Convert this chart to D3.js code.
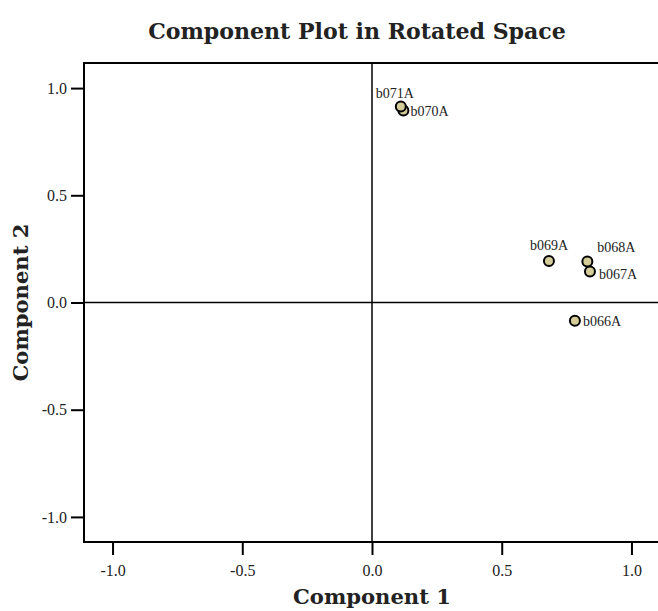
<!DOCTYPE html>
<html>
<head>
<meta charset="utf-8">
<script src="https://cdn.jsdelivr.net/npm/d3@7"></script>
<style>
  html, body { margin: 0; padding: 0; background: #fff; }
  svg { display: block; }
  text { font-family: "Liberation Serif", "DejaVu Serif", serif; fill: #222; }
</style>
</head>
<body>
<svg id="chart" width="658" height="611"></svg>
<script>
// ---- data ----
const labels = ["b071A", "b070A", "b069A", "b068A", "b067A", "b066A"];
const comp1 = [0.111, 0.121, 0.682, 0.830, 0.840, 0.782];
const comp2 = [0.914, 0.895, 0.194, 0.191, 0.145, -0.085];
// label placement relative to point: [dx, dy, anchor]
const labelPos = [
  [-25, -9, "start"],
  [7, 5, "start"],
  [0, -11, "middle"],
  [10, -10, "start"],
  [9, 8, "start"],
  [8, 5, "start"]
];
const xTicks = [-1.0, -0.5, 0.0, 0.5, 1.0];
const yTicks = [-1.0, -0.5, 0.0, 0.5, 1.0];
const xDomain = [-1.11, 1.11];
const yDomain = [-1.117, 1.117];

// ---- layout ----
const svg = d3.select("#chart");
const mLeft = 84, mTop = 63, mRight = 660, mBottom = 542;

const x = d3.scaleLinear().domain(xDomain).range([mLeft, mRight]);
const y = d3.scaleLinear().domain(yDomain).range([mBottom, mTop]);

// frame
svg.append("rect")
  .attr("x", mLeft).attr("y", mTop)
  .attr("width", mRight - mLeft).attr("height", mBottom - mTop)
  .attr("fill", "none").attr("stroke", "#000").attr("stroke-width", 2);

// reference lines at 0
svg.append("line")
  .attr("x1", mLeft).attr("x2", mRight)
  .attr("y1", y(0)).attr("y2", y(0))
  .attr("stroke", "#000").attr("stroke-width", 1.5);
svg.append("line")
  .attr("x1", x(0)).attr("x2", x(0))
  .attr("y1", mTop).attr("y2", mBottom)
  .attr("stroke", "#000").attr("stroke-width", 1.5);

// axes
const fmt = v => d3.format(".1f")(v).replace("\u2212", "-");
const xAxis = d3.axisBottom(x).tickValues(xTicks).tickFormat(fmt).tickSize(13).tickPadding(5);
const yAxis = d3.axisLeft(y).tickValues(yTicks).tickFormat(fmt).tickSize(13).tickPadding(4);

const gx = svg.append("g").attr("transform", `translate(0,${mBottom})`).call(xAxis);
const gy = svg.append("g").attr("transform", `translate(${mLeft},0)`).call(yAxis);
[gx, gy].forEach(g => {
  g.select(".domain").remove();
  g.selectAll(".tick line").attr("stroke", "#000").attr("stroke-width", 2);
  g.selectAll(".tick text")
    .style("font-family", '"Liberation Serif", "DejaVu Serif", serif')
    .style("font-size", "16px").attr("fill", "#222");
});
gx.selectAll(".tick text").attr("dy", "1.0em");

// points
const pts = labels.map((l, i) => ({ label: l, c1: comp1[i], c2: comp2[i], pos: labelPos[i] }));
const g = svg.append("g");
g.selectAll("circle").data(pts.slice().reverse()).enter().append("circle")
  .attr("cx", d => x(d.c1)).attr("cy", d => y(d.c2))
  .attr("r", 5)
  .attr("fill", "#d4cd97").attr("stroke", "#000").attr("stroke-width", 2);

g.selectAll("text.lbl").data(pts).enter().append("text")
  .attr("class", "lbl")
  .attr("x", d => x(d.c1) + d.pos[0])
  .attr("y", d => y(d.c2) + d.pos[1])
  .attr("text-anchor", d => d.pos[2])
  .attr("font-size", "14px")
  .text(d => d.label);

// titles
function fitText(sel, target) {
  const w = sel.node().getComputedTextLength();
  const fs = parseFloat(sel.attr("font-size"));
  sel.attr("font-size", (fs * target / w).toFixed(2) + "px");
}
const titleFont = '"DejaVu Serif", "Liberation Serif", serif';
const title = svg.append("text")
  .attr("x", 357).attr("y", 39)
  .attr("text-anchor", "middle")
  .style("font-family", titleFont)
  .attr("font-weight", "bold").attr("font-size", "18px")
  .attr("fill", "#111")
  .text("Component Plot in Rotated Space");
fitText(title, 418);

const xt = svg.append("text")
  .attr("x", 372).attr("y", 604)
  .attr("text-anchor", "middle")
  .style("font-family", titleFont)
  .attr("font-weight", "bold").attr("font-size", "18px")
  .attr("fill", "#111")
  .text("Component 1");
fitText(xt, 158);

const yt = svg.append("text")
  .attr("transform", `translate(28,${y(0)}) rotate(-90)`)
  .attr("text-anchor", "middle")
  .style("font-family", titleFont)
  .attr("font-weight", "bold").attr("font-size", "18px")
  .attr("fill", "#111")
  .text("Component 2");
fitText(yt, 158);
</script>
</body>
</html>
